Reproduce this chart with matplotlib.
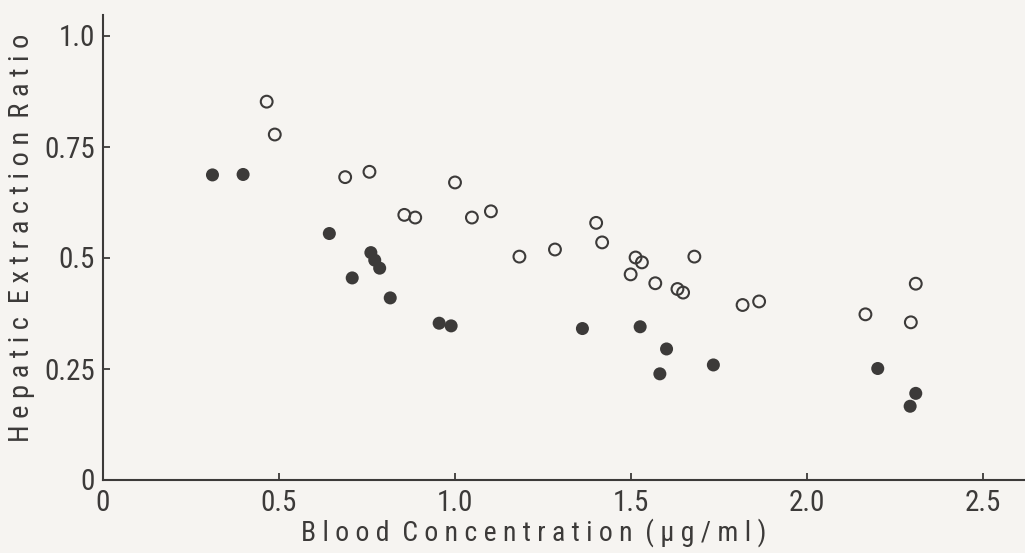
import matplotlib
matplotlib.use("Agg")
import matplotlib.pyplot as plt
from matplotlib import font_manager

# --- data ---
open_x = [0.465, 0.488, 0.688, 0.757, 1.000, 0.856, 0.887, 1.048, 1.102, 1.401,
          1.418, 1.183, 1.284, 1.513, 1.531, 1.680, 1.499, 1.569, 1.632, 1.648,
          1.817, 1.864, 2.166, 2.309, 2.295]
open_y = [0.851, 0.777, 0.681, 0.693, 0.669, 0.596, 0.590, 0.590, 0.604, 0.578,
          0.534, 0.502, 0.518, 0.500, 0.489, 0.502, 0.462, 0.442, 0.429, 0.421,
          0.393, 0.401, 0.372, 0.441, 0.354]

filled_x = [0.311, 0.398, 0.643, 0.761, 0.772, 0.786, 0.708, 0.816, 0.955, 0.989,
            1.362, 1.526, 1.601, 1.582, 1.734, 2.201, 2.309, 2.293]
filled_y = [0.686, 0.687, 0.554, 0.511, 0.494, 0.476, 0.454, 0.409, 0.352, 0.346,
            0.340, 0.344, 0.294, 0.238, 0.258, 0.250, 0.194, 0.165]

x_ticks = [0, 0.5, 1.0, 1.5, 2.0, 2.5]
x_tick_labels = ["0", "0.5", "1.0", "1.5", "2.0", "2.5"]
y_ticks = [0, 0.25, 0.5, 0.75, 1.0]
y_tick_labels = ["0", "0.25", "0.5", "0.75", "1.0"]

x_label = "Blood Concentration (\u03bcg/ml)"
y_label = "Hepatic Extraction Ratio"

bg = "#f6f4f1"
ink = "#3c3a39"

# prefer a narrow face, the scan uses a condensed grotesque
names = {f.name for f in font_manager.fontManager.ttflist}
narrow = [n for n in ("Liberation Sans Narrow", "Roboto Condensed",
                      "Open Sans Condensed", "DejaVu Sans Condensed") if n in names]
family = narrow[0] if narrow else "DejaVu Sans"
plt.rcParams["font.family"] = [family, "DejaVu Sans"]
plt.rcParams["font.stretch"] = "condensed"


def spaced(s):
    # the original uses wide letter spacing
    return "  ".join(" ".join(w) for w in s.split(" "))


fig = plt.figure(figsize=(10.25, 5.53), dpi=100, facecolor=bg)
ax = fig.add_axes([103 / 1025, 73.5 / 553, 922 / 1025, 464.5 / 553])
ax.set_facecolor(bg)

ax.scatter(open_x, open_y, s=72, facecolors="none", edgecolors=ink,
           linewidths=1.5, zorder=3, clip_on=False)
ax.scatter(filled_x, filled_y, s=88, facecolors=ink, edgecolors="none",
           zorder=3, clip_on=False)

ax.set_xlim(0, 922 / 352)
ax.set_ylim(0, 464.5 / 444)

for side in ("top", "right"):
    ax.spines[side].set_visible(False)
for side in ("left", "bottom"):
    ax.spines[side].set_color(ink)
    ax.spines[side].set_linewidth(1.5)

ax.set_xticks(x_ticks)
ax.set_xticklabels(x_tick_labels)
ax.set_yticks(y_ticks)
ax.set_yticklabels(y_tick_labels)
ax.tick_params(direction="in", length=5, width=1.3, color=ink,
               labelcolor=ink, labelsize=21)
ax.tick_params(axis="x", pad=7)
ax.tick_params(axis="y", pad=6)

fig.text(534 / 1025, 1 - 533 / 553, spaced(x_label), ha="center", va="center",
         fontsize=20, color=ink)
fig.text(22 / 1025, 1 - 238 / 553, spaced(y_label), ha="center", va="center",
         rotation=90, fontsize=20.5, color=ink)

fig.savefig("out.png", dpi=100, facecolor=bg)
